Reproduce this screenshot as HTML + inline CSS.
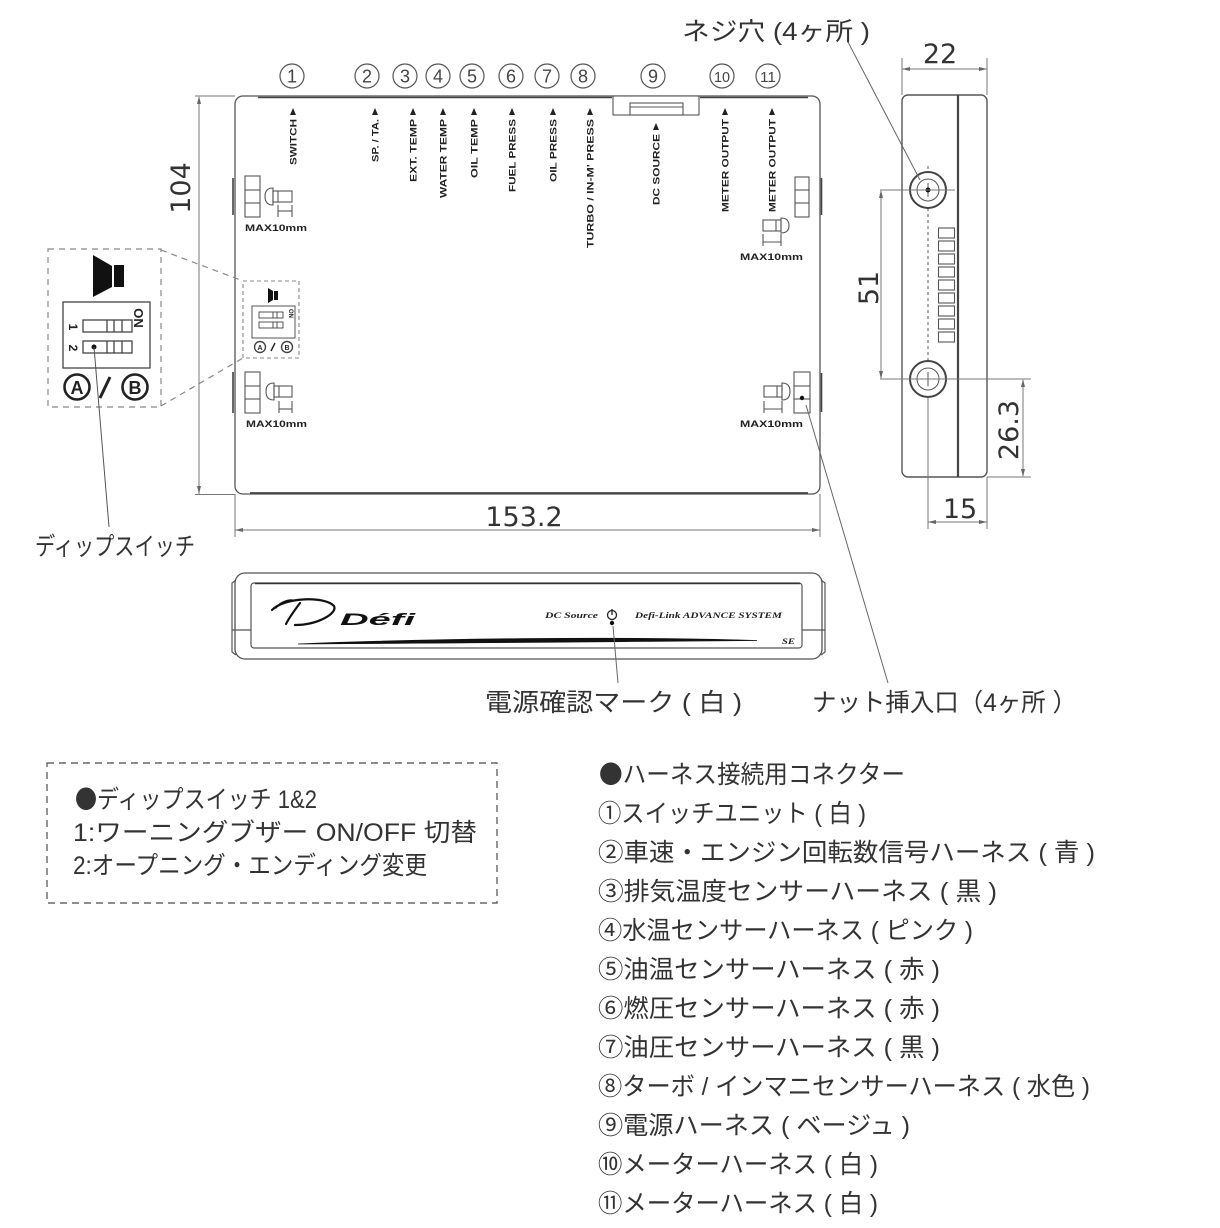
<!DOCTYPE html>
<html><head><meta charset="utf-8">
<style>
html,body{margin:0;padding:0;background:#fff;}
svg{display:block;}
.jp{font-family:"Liberation Sans","Noto Sans CJK JP",sans-serif;font-size:25px;fill:#333;}
.bl{font-family:"Noto Sans CJK JP",sans-serif;}
.dim{font-family:"DejaVu Sans","Liberation Sans",sans-serif;font-size:27px;fill:#333;}
.lb{font-family:"Liberation Sans",sans-serif;font-weight:bold;font-size:9px;fill:#222;}
.cn{font-family:"Liberation Sans",sans-serif;font-size:18px;fill:#444;}
</style></head><body>
<svg width="1220" height="1228" viewBox="0 0 1220 1228" xmlns="http://www.w3.org/2000/svg">
<rect width="1220" height="1228" fill="#fff"/>

<!-- ===== circled numbers ===== -->
<g fill="none" stroke="#555" stroke-width="1.2">
<circle cx="292" cy="76" r="12"/><circle cx="367" cy="76" r="12"/><circle cx="405" cy="76" r="12"/>
<circle cx="438" cy="76" r="12"/><circle cx="472" cy="76" r="12"/><circle cx="511" cy="76" r="12"/>
<circle cx="547" cy="76" r="12"/><circle cx="583" cy="76" r="12"/><circle cx="653" cy="76" r="12"/>
<circle cx="722" cy="76" r="12"/><circle cx="768" cy="76" r="12"/>
</g>
<g class="cn" text-anchor="middle">
<text x="292" y="82.5">1</text><text x="367" y="82.5">2</text><text x="405" y="82.5">3</text>
<text x="438" y="82.5">4</text><text x="472" y="82.5">5</text><text x="511" y="82.5">6</text>
<text x="547" y="82.5">7</text><text x="583" y="82.5">8</text><text x="653" y="82.5">9</text>
<text x="722" y="82" font-size="15" textLength="16" lengthAdjust="spacingAndGlyphs">10</text>
<text x="768" y="82" font-size="15" textLength="16" lengthAdjust="spacingAndGlyphs">11</text>
</g>

<!-- ===== main body (top view) ===== -->
<rect x="235" y="96" width="585" height="398" rx="8" fill="none" stroke="#555" stroke-width="1.3"/>
<line x1="258" y1="97.5" x2="612" y2="97.5" stroke="#444" stroke-width="1.6"/>
<line x1="700" y1="97.5" x2="808" y2="97.5" stroke="#444" stroke-width="1.6"/>
<line x1="250" y1="493" x2="808" y2="493" stroke="#444" stroke-width="1.8"/>
<g stroke="#444" stroke-width="1.6">
<line x1="233" y1="178" x2="233" y2="215"/><line x1="233" y1="372" x2="233" y2="413"/>
<line x1="821.5" y1="178" x2="821.5" y2="215"/><line x1="821.5" y1="373" x2="821.5" y2="412"/>
</g>
<g fill="#fff" stroke="#555" stroke-width="1.1">
<rect x="613" y="96" width="86" height="19"/>
<rect x="630" y="103" width="53" height="12"/>
<line x1="630" y1="107" x2="683" y2="107"/>
</g>

<g fill="#222">
<polygon points="293,108 290,115 296,115"/><polygon points="375,108 372,115 378,115"/>
<polygon points="413,108 410,115 416,115"/><polygon points="443,108 440,115 446,115"/>
<polygon points="474,108 471,115 477,115"/><polygon points="512,108 509,115 515,115"/>
<polygon points="553,108 550,115 556,115"/><polygon points="590,108 587,115 593,115"/>
<polygon points="656,123 653,130 659,130"/><polygon points="725,108 722,115 728,115"/>
<polygon points="772,108 769,115 775,115"/>
</g>
<g class="lb" text-anchor="end">
<text transform="translate(296.5,119) rotate(-90)" textLength="46" lengthAdjust="spacingAndGlyphs">SWITCH</text>
<text transform="translate(378.5,119) rotate(-90)" textLength="43" lengthAdjust="spacingAndGlyphs">SP. / TA.</text>
<text transform="translate(416.5,119) rotate(-90)" textLength="63" lengthAdjust="spacingAndGlyphs">EXT. TEMP</text>
<text transform="translate(446.5,119) rotate(-90)" textLength="79" lengthAdjust="spacingAndGlyphs">WATER TEMP</text>
<text transform="translate(477.5,119) rotate(-90)" textLength="59" lengthAdjust="spacingAndGlyphs">OIL TEMP</text>
<text transform="translate(515.5,119) rotate(-90)" textLength="73" lengthAdjust="spacingAndGlyphs">FUEL PRESS</text>
<text transform="translate(556.5,119) rotate(-90)" textLength="63" lengthAdjust="spacingAndGlyphs">OIL PRESS</text>
<text transform="translate(593.5,119) rotate(-90)" textLength="129" lengthAdjust="spacingAndGlyphs">TURBO / IN-M' PRESS</text>
<text transform="translate(659.5,134) rotate(-90)" textLength="71" lengthAdjust="spacingAndGlyphs">DC SOURCE</text>
<text transform="translate(728.5,119) rotate(-90)" textLength="93" lengthAdjust="spacingAndGlyphs">METER OUTPUT</text>
<text transform="translate(775.5,119) rotate(-90)" textLength="93" lengthAdjust="spacingAndGlyphs">METER OUTPUT</text>
</g>

<g fill="none" stroke="#555" stroke-width="1.1">
<rect x="245" y="176" width="15" height="41"/><line x1="245" y1="190" x2="260" y2="190"/><line x1="245" y1="203" x2="260" y2="203"/>
<path d="M273,188 Q265,188 265,196.5 Q265,205 273,205 Z"/>
<rect x="273" y="191" width="19" height="11"/><line x1="278" y1="191" x2="278" y2="202"/>
<line x1="278" y1="205" x2="278" y2="217"/><line x1="292" y1="205" x2="292" y2="217"/><line x1="278" y1="211" x2="292" y2="211"/>
<rect x="245" y="372" width="15" height="41"/><line x1="245" y1="386" x2="260" y2="386"/><line x1="245" y1="399" x2="260" y2="399"/>
<path d="M274,383 Q266,383 266,391.5 Q266,400 274,400 Z"/>
<rect x="274" y="386" width="18" height="11"/><line x1="279" y1="386" x2="279" y2="397"/>
<line x1="279" y1="401" x2="279" y2="413"/><line x1="292" y1="401" x2="292" y2="413"/><line x1="279" y1="409" x2="292" y2="409"/>
<rect x="795" y="177" width="14" height="40"/><line x1="795" y1="190" x2="809" y2="190"/><line x1="795" y1="203" x2="809" y2="203"/>
<path d="M781,218 Q789,218 789,225.5 Q789,233 781,233 Z"/>
<rect x="763" y="220" width="18" height="11"/><line x1="776" y1="220" x2="776" y2="231"/>
<line x1="763" y1="234" x2="763" y2="246"/><line x1="781" y1="234" x2="781" y2="246"/><line x1="763" y1="242" x2="781" y2="242"/>
<rect x="794" y="372" width="16" height="41"/><line x1="794" y1="386" x2="810" y2="386"/><line x1="794" y1="399" x2="810" y2="399"/>
<path d="M782,383 Q790,383 790,391.5 Q790,400 782,400 Z"/>
<rect x="764" y="386" width="18" height="11"/><line x1="777" y1="386" x2="777" y2="397"/>
<line x1="764" y1="401" x2="764" y2="413"/><line x1="782" y1="401" x2="782" y2="413"/><line x1="764" y1="409" x2="782" y2="409"/>
</g>
<circle cx="802" cy="398" r="2.2" fill="#111"/>
<g class="lb" font-size="9.5">
<text x="245" y="231" textLength="62" lengthAdjust="spacingAndGlyphs">MAX10mm</text>
<text x="246" y="427" textLength="61" lengthAdjust="spacingAndGlyphs">MAX10mm</text>
<text x="740" y="260" textLength="63" lengthAdjust="spacingAndGlyphs">MAX10mm</text>
<text x="740" y="427" textLength="63" lengthAdjust="spacingAndGlyphs">MAX10mm</text>
</g>

<!-- small DIP inset -->
<rect x="243" y="281" width="56" height="77" fill="none" stroke="#888" stroke-width="1.1" stroke-dasharray="4,3"/>
<polygon points="268,288 273,291 273,300 268,303" fill="#111"/>
<rect x="274" y="291" width="4" height="9" fill="#111"/>
<g fill="none" stroke="#444" stroke-width="0.9">
<rect x="252" y="306" width="43" height="32"/>
<rect x="259" y="312" width="24" height="6"/><rect x="259" y="322" width="24" height="6"/>
<line x1="273" y1="312" x2="273" y2="318"/><line x1="277" y1="312" x2="277" y2="318"/>
<line x1="273" y1="322" x2="273" y2="328"/><line x1="277" y1="322" x2="277" y2="328"/>
<circle cx="260" cy="347" r="5.5" stroke-width="1.4"/><circle cx="287" cy="347" r="5.5" stroke-width="1.4"/>
</g>
<line x1="271" y1="351" x2="275" y2="343" stroke="#222" stroke-width="1.4"/>
<text x="260" y="350" font-family="Liberation Sans" font-weight="bold" font-size="7" text-anchor="middle" fill="#222">A</text>
<text x="287" y="350" font-family="Liberation Sans" font-weight="bold" font-size="7" text-anchor="middle" fill="#222">B</text>
<text transform="translate(289,309) rotate(90)" font-family="Liberation Sans" font-weight="bold" font-size="6" fill="#222">ON</text>

<!-- large DIP -->
<rect x="48" y="249" width="113" height="158" fill="none" stroke="#888" stroke-width="1.2" stroke-dasharray="6,5"/>
<line x1="161" y1="250" x2="243" y2="281" stroke="#888" stroke-width="1.2" stroke-dasharray="6,5"/>
<line x1="161" y1="406" x2="243" y2="358" stroke="#888" stroke-width="1.2" stroke-dasharray="6,5"/>
<polygon points="93,255 112,266 112,287 93,297" fill="#111"/>
<rect x="114" y="265" width="10" height="22" fill="#111"/>
<g fill="none" stroke="#444" stroke-width="1.3">
<rect x="63" y="302" width="87" height="66"/>
<rect x="83" y="320" width="49" height="12"/><line x1="107" y1="320" x2="107" y2="332"/><line x1="114" y1="320" x2="114" y2="332"/><line x1="122" y1="320" x2="122" y2="332"/>
<rect x="83" y="341" width="49" height="12"/><line x1="107" y1="341" x2="107" y2="353"/><line x1="114" y1="341" x2="114" y2="353"/><line x1="122" y1="341" x2="122" y2="353"/>
</g>
<circle cx="94" cy="347" r="2.5" fill="#111"/>
<g font-family="Liberation Sans" font-weight="bold" fill="#222">
<text transform="translate(134,318) rotate(90)" font-size="13" text-anchor="middle">ON</text>
<text transform="translate(69,327) rotate(90)" font-size="12" text-anchor="middle">1</text>
<text transform="translate(69,348) rotate(90)" font-size="12" text-anchor="middle">2</text>
<text x="77" y="394" font-size="18" text-anchor="middle">A</text>
<text x="135" y="394" font-size="18" text-anchor="middle">B</text>
</g>
<g fill="none" stroke="#222" stroke-width="2.6">
<circle cx="77" cy="387" r="12.5"/><circle cx="135" cy="387" r="12.5"/>
</g>
<line x1="100" y1="398" x2="110" y2="377" stroke="#222" stroke-width="3"/>
<line x1="94" y1="347" x2="109" y2="527" stroke="#555" stroke-width="1"/>
<text class="jp" x="35" y="555" textLength="160" lengthAdjust="spacingAndGlyphs">ディップスイッチ</text>

<!-- ===== dims main ===== -->
<g stroke="#777" stroke-width="1" fill="none">
<line x1="195" y1="96" x2="235" y2="96"/><line x1="195" y1="494.5" x2="235" y2="494.5"/>
<line x1="199" y1="97" x2="199" y2="494"/>
<line x1="235" y1="494" x2="235" y2="537"/><line x1="820" y1="494" x2="820" y2="537"/>
<line x1="235" y1="530" x2="820" y2="530"/>
</g>
<g fill="#666">
<polygon points="199,96 197,104 201,104"/><polygon points="199,494 197,486 201,486"/>
<polygon points="235,530 243,528 243,532"/><polygon points="820,530 812,528 812,532"/>
</g>
<text class="dim" transform="translate(190,188) rotate(-90)" text-anchor="middle">104</text>
<text class="dim" x="524" y="526" text-anchor="middle">153.2</text>

<!-- ===== side view ===== -->
<rect x="902" y="95" width="85" height="382" rx="6" fill="none" stroke="#555" stroke-width="1.4"/>
<line x1="958" y1="95" x2="958" y2="477" stroke="#444" stroke-width="2.2"/>
<g fill="none" stroke="#555" stroke-width="1.1">
<rect x="938.5" y="228" width="16" height="10"/><rect x="938.5" y="241" width="16" height="10"/>
<rect x="938.5" y="254" width="16" height="10"/><rect x="938.5" y="267" width="16" height="10"/>
<rect x="938.5" y="280" width="16" height="10"/><rect x="938.5" y="293" width="16" height="10"/>
<rect x="938.5" y="306" width="16" height="10"/><rect x="938.5" y="319" width="16" height="10"/>
<rect x="938.5" y="332" width="16" height="10"/>
</g>
<line x1="928" y1="166" x2="928" y2="398" stroke="#555" stroke-width="1" stroke-dasharray="3,3"/>
<g fill="#fff" stroke="#444" stroke-width="2">
<circle cx="928" cy="190" r="18"/><circle cx="928" cy="379" r="18"/>
</g>
<g fill="none" stroke="#555" stroke-width="1">
<circle cx="928" cy="190" r="11"/><circle cx="928" cy="379" r="11"/>
<line x1="921" y1="190" x2="935" y2="190"/><line x1="928" y1="183" x2="928" y2="197"/>
<line x1="921" y1="379" x2="935" y2="379"/><line x1="928" y1="372" x2="928" y2="386"/>
</g>
<circle cx="928" cy="190" r="2.5" fill="#111"/>
<g stroke="#777" stroke-width="1" fill="none">
<line x1="880" y1="190" x2="955" y2="190"/><line x1="880" y1="379" x2="1031" y2="379"/>
<line x1="881" y1="191" x2="881" y2="378"/>
<line x1="987" y1="477" x2="1031" y2="477"/><line x1="1023" y1="380" x2="1023" y2="476"/>
<line x1="902" y1="58" x2="902" y2="95"/><line x1="987" y1="58" x2="987" y2="95"/>
<line x1="902" y1="69" x2="987" y2="69"/>
<line x1="928" y1="398" x2="928" y2="529"/><line x1="987" y1="477" x2="987" y2="529"/>
<line x1="928" y1="522" x2="987" y2="522"/>
</g>
<g fill="#666">
<polygon points="881,190 879,198 883,198"/><polygon points="881,379 879,371 883,371"/>
<polygon points="1023,379 1021,387 1025,387"/><polygon points="1023,477 1021,469 1025,469"/>
<polygon points="902,69 910,67 910,71"/><polygon points="987,69 979,67 979,71"/>
<polygon points="928,522 936,520 936,524"/><polygon points="987,522 979,520 979,524"/>
</g>
<text class="dim" x="940" y="63" text-anchor="middle">22</text>
<text class="dim" transform="translate(878,288) rotate(-90)" text-anchor="middle">51</text>
<text class="dim" transform="translate(1018,430) rotate(-90)" text-anchor="middle">26.3</text>
<text class="dim" x="960" y="518" text-anchor="middle">15</text>
<line x1="848" y1="42" x2="920" y2="180" stroke="#666" stroke-width="1"/>
<text class="jp" x="682" y="40" textLength="188" lengthAdjust="spacingAndGlyphs">ネジ穴 (4ヶ所 )</text>

<line x1="806" y1="405" x2="888" y2="683" stroke="#666" stroke-width="1"/>

<!-- ===== front view ===== -->
<rect x="235" y="573" width="587" height="86" rx="10" fill="none" stroke="#555" stroke-width="1.3"/>
<g fill="none" stroke="#555" stroke-width="1.2">
<path d="M236,580 L232,583 L232,652 L236,655"/>
<path d="M821,580 L825,583 L825,652 L821,655"/>
<line x1="232" y1="630" x2="251" y2="630"/><line x1="802" y1="630" x2="825" y2="630"/>
<rect x="251" y="583" width="551" height="65" rx="3"/>
</g>
<line x1="255" y1="583.5" x2="800" y2="583.5" stroke="#333" stroke-width="1.4"/>
<g fill="none" stroke="#111" stroke-linecap="round">
<path d="M272,610 C285,597 325,596 334,606 C338,613 318,625 295,625" stroke-width="2.2"/>
<path d="M300,603 C294,611 289,618 286,624" stroke-width="2.2"/>
<path d="M276,608 C279,603 286,600 292,600" stroke-width="1.4"/>
</g>
<text x="340" y="625" font-family="Liberation Sans" font-weight="bold" font-style="italic" font-size="17" fill="#111" textLength="75" lengthAdjust="spacingAndGlyphs">Défi</text>
<path d="M298,644 C420,639 620,636 757,640.5 C620,641 420,644 298,644 Z" fill="#111" stroke="#111" stroke-width="0.8"/>
<text x="545" y="618" font-family="Liberation Serif" font-weight="bold" font-style="italic" font-size="8" fill="#222" textLength="53" lengthAdjust="spacingAndGlyphs">DC Source</text>
<circle cx="612" cy="615" r="4.5" fill="none" stroke="#222" stroke-width="1.3"/>
<line x1="612" y1="609" x2="612" y2="615" stroke="#222" stroke-width="1.3"/>
<circle cx="612" cy="623" r="2.2" fill="#111"/>
<text x="635" y="618" font-family="Liberation Serif" font-weight="bold" font-style="italic" font-size="8" fill="#222" textLength="147" lengthAdjust="spacingAndGlyphs">Defi-Link ADVANCE SYSTEM</text>
<text x="782" y="644" font-family="Liberation Serif" font-weight="bold" font-style="italic" font-size="8" fill="#222" textLength="13" lengthAdjust="spacingAndGlyphs">SE</text>
<line x1="613" y1="626" x2="618" y2="683" stroke="#666" stroke-width="1"/>
<text class="jp" x="485" y="711" textLength="257" lengthAdjust="spacingAndGlyphs">電源確認マーク ( 白 )</text>
<text class="jp" x="812" y="711" textLength="265" lengthAdjust="spacingAndGlyphs">ナット挿入口（4ヶ所 ）</text>

<!-- ===== notes box ===== -->
<rect x="47" y="763" width="450" height="140" fill="none" stroke="#666" stroke-width="1.4" stroke-dasharray="7,5"/>
<g class="jp">
<text x="75" y="808" textLength="242" lengthAdjust="spacingAndGlyphs"><tspan class="bl">●</tspan>ディップスイッチ 1&amp;2</text>
<text x="73" y="841" textLength="404" lengthAdjust="spacingAndGlyphs">1:ワーニングブザー ON/OFF 切替</text>
<text x="73" y="874" textLength="354" lengthAdjust="spacingAndGlyphs">2:オープニング・エンディング変更</text>
</g>

<!-- ===== harness list ===== -->
<g class="jp">
<text x="599" y="783" textLength="306" lengthAdjust="spacingAndGlyphs"><tspan class="bl">●</tspan>ハーネス接続用コネクター</text>
<text x="598" y="822" textLength="268" lengthAdjust="spacingAndGlyphs">①スイッチユニット ( 白 )</text>
<text x="598" y="861" textLength="497" lengthAdjust="spacingAndGlyphs">②車速・エンジン回転数信号ハーネス ( 青 )</text>
<text x="598" y="900" textLength="399" lengthAdjust="spacingAndGlyphs">③排気温度センサーハーネス ( 黒 )</text>
<text x="598" y="939" textLength="375" lengthAdjust="spacingAndGlyphs">④水温センサーハーネス ( ピンク )</text>
<text x="598" y="978" textLength="342" lengthAdjust="spacingAndGlyphs">⑤油温センサーハーネス ( 赤 )</text>
<text x="598" y="1017" textLength="342" lengthAdjust="spacingAndGlyphs">⑥燃圧センサーハーネス ( 赤 )</text>
<text x="598" y="1056" textLength="342" lengthAdjust="spacingAndGlyphs">⑦油圧センサーハーネス ( 黒 )</text>
<text x="598" y="1095" textLength="492" lengthAdjust="spacingAndGlyphs">⑧ターボ / インマニセンサーハーネス ( 水色 )</text>
<text x="598" y="1134" textLength="312" lengthAdjust="spacingAndGlyphs">⑨電源ハーネス ( ベージュ )</text>
<text x="598" y="1173" textLength="280" lengthAdjust="spacingAndGlyphs">⑩メーターハーネス ( 白 )</text>
<text x="598" y="1212" textLength="280" lengthAdjust="spacingAndGlyphs">⑪メーターハーネス ( 白 )</text>
</g>
</svg>
</body></html>
